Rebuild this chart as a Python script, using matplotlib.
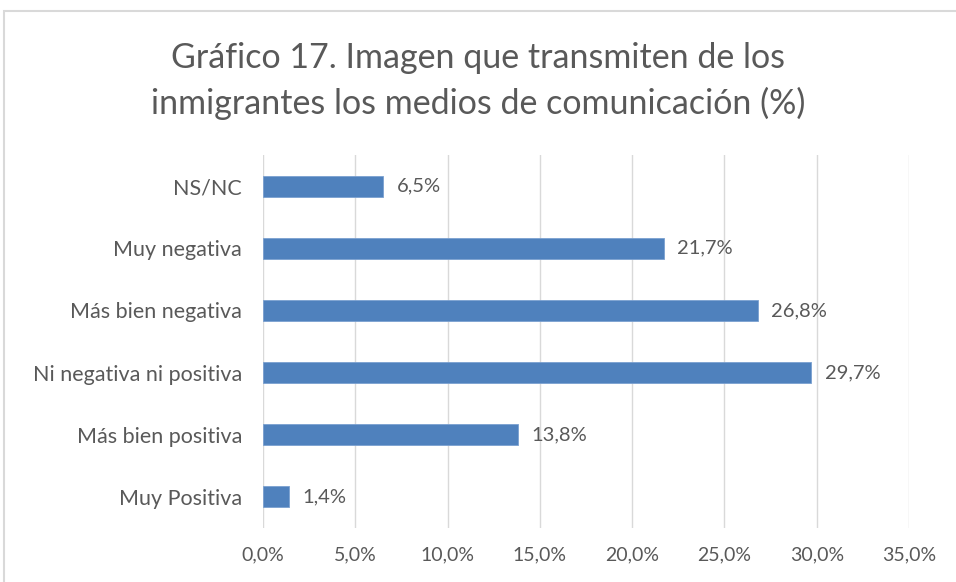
import matplotlib as mpl
mpl.use('Agg')
import matplotlib.pyplot as plt
from matplotlib.patches import Rectangle
from matplotlib.ticker import FuncFormatter

categories = ['Muy Positiva', 'Más bien positiva', 'Ni negativa ni positiva',
              'Más bien negativa', 'Muy negativa', 'NS/NC']
values = [1.4, 13.8, 29.7, 26.8, 21.7, 6.5]
xticks = [0, 5, 10, 15, 20, 25, 30, 35]

bar_color = '#4f81bd'
text_color = '#595959'
grid_color = '#d9d9d9'

plt.rcParams['font.family'] = ['Lato', 'DejaVu Sans']

fig = plt.figure(figsize=(9.56, 5.82), dpi=100)
ax = fig.add_axes([263 / 956, 1 - 528 / 582, (909 - 263) / 956, (528 - 155) / 582])

y = range(len(categories))
ax.barh(y, values, height=0.34, color=bar_color, edgecolor='#7aa0d0', linewidth=0.6, zorder=3)
for yi, v in zip(y, values):
    ax.text(v + 0.75, yi, '{:.1f}%'.format(v).replace('.', ','), va='center', ha='left',
            fontsize=14.5, color=text_color)

ax.set_xlim(0, 35)
ax.set_ylim(-0.5, len(categories) - 0.5)
ax.set_xticks(xticks)
ax.xaxis.set_major_formatter(FuncFormatter(lambda x, p: '{:.1f}%'.format(x).replace('.', ',')))
ax.set_yticks(list(y))
ax.set_yticklabels(categories)
ax.tick_params(axis='both', length=0, colors=text_color)
ax.tick_params(axis='x', pad=13, labelsize=14)
ax.tick_params(axis='y', pad=15, labelsize=15.5)
ax.grid(axis='x', color=grid_color, linewidth=1, zorder=0)
for s in ax.spines.values():
    s.set_visible(False)

fig.text(0.5, 1 - 58 / 582, 'Gráfico 17. Imagen que transmiten de los',
         ha='center', va='center', fontsize=24.5, color=text_color)
fig.text(0.5, 1 - 103 / 582, 'inmigrantes los medios de comunicación (%)',
         ha='center', va='center', fontsize=24.5, color=text_color)

# chart frame
fig.patches.append(Rectangle((4 / 956, -0.1), 1.1, 1 - 11 / 582 + 0.1, transform=fig.transFigure,
                             fill=False, edgecolor='#d9d9d9', linewidth=1.5))

fig.savefig('out.png', dpi=100)
